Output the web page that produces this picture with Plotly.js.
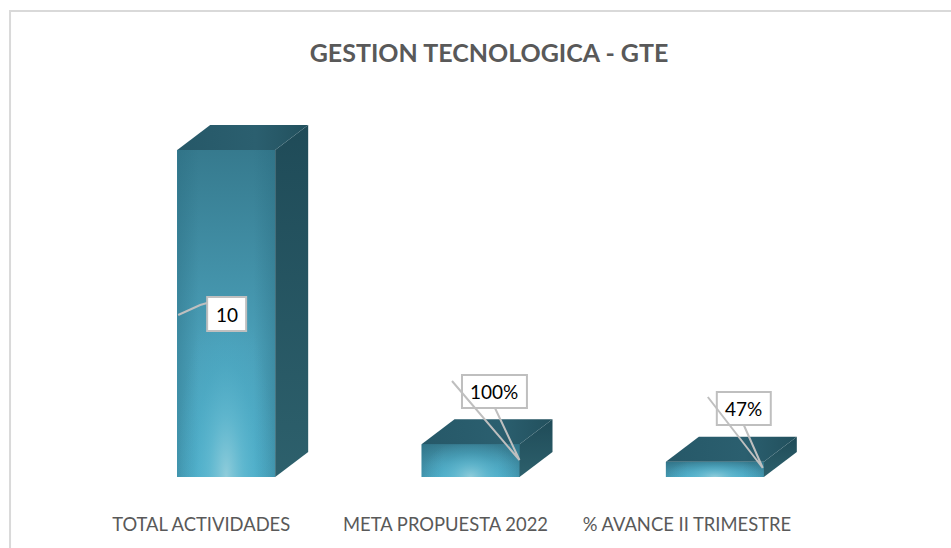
<!DOCTYPE html>
<html><head><meta charset="utf-8">
<script src="https://cdn.plot.ly/plotly-3.0.1.min.js"></script>
<style>html,body{margin:0;padding:0;background:#fff}</style></head>
<body><div id="chart" style="width:951px;height:548px"></div>
<script>
const categories = ["TOTAL ACTIVIDADES", "META PROPUESTA 2022", "% AVANCE II TRIMESTRE"];
const values = [10, 1, 0.47];
const valueLabels = ["10", "100%", "47%"];

// axis calibration (pixels)
const PX0 = 201, UNITX = 244.5, BASE = 477, UNITY = 32.7, TOPPX = 100;
const xd = p => (p - PX0) / UNITX;
const yd = p => (BASE - p) / UNITY;
const BAR_OFFSET = -0.098, BAR_W = 0.401, DEPTH_X = 33 / UNITX, DEPTH_Y = 25 / UNITY;
const glowDepth = [5.4, 1.15, 0.6];

const traces = [{
  type: 'bar', x: [0, 1, 2], y: values, width: BAR_W, offset: BAR_OFFSET,
  marker: {color: '#3f8ea8', line: {width: 0}}, hoverinfo: 'skip', showlegend: false
}];
const poly = (x, y, g) => ({type: 'scatter', mode: 'none', x, y, fill: 'toself', fillgradient: g, hoverinfo: 'skip', showlegend: false});

values.forEach((v, i) => {
  const a = i + BAR_OFFSET, b = a + BAR_W;
  // front: vertical shading
  traces.push(poly([a, b, b, a, a], [0, 0, v, v, 0], {type: 'vertical',
    colorscale: [[0, '#50afca'], [0.4, '#4a9fb8'], [1, '#367a8e']]}));
  // front: darker vertical edges
  traces.push(poly([a, b, b, a, a], [0, 0, v, v, 0], {type: 'horizontal',
    colorscale: [[0, 'rgba(40,105,125,0.38)'], [0.22, 'rgba(40,105,125,0)'], [0.78, 'rgba(40,105,125,0)'], [1, 'rgba(40,105,125,0.38)']]}));
  // front: glow rising from the base
  const k = glowDepth[i];
  traces.push(poly([a, b, b, a, a], [-k, -k, k, k, -k], {type: 'radial',
    colorscale: [[0, 'rgba(155,210,222,0.85)'], [0.35, 'rgba(105,190,212,0.6)'], [0.65, 'rgba(80,178,205,0.3)'], [1, 'rgba(80,175,205,0)']]}));
  // right side
  traces.push(poly([b, b + DEPTH_X, b + DEPTH_X, b, b], [0, DEPTH_Y, v + DEPTH_Y, v, 0], {type: 'vertical',
    colorscale: [[0, '#2d606c'], [1, '#1f4b58']]}));
  // top
  traces.push(poly([a, b, b + DEPTH_X, a + DEPTH_X, a], [v, v, v + DEPTH_Y, v + DEPTH_Y, v], {type: 'horizontal',
    colorscale: [[0, '#265868'], [0.6, '#2b5f6f'], [1, '#22505d']]}));
});

// callouts (pixels)
const boxes = [[207, 297, 246, 331], [462, 375, 527, 408], [717, 392, 771, 425]];
const leaders = [
  [[178, 315], [200, 305], [207, 303]],
  [[452, 381], [519.5, 460], [495, 408]],
  [[708, 397], [763, 468], [744, 425]]
];
const shapes = [];
const GREY = '#bfbfbf';
boxes.forEach((r, i) => {
  shapes.push({type: 'rect', xref: 'x', yref: 'y', layer: 'above', x0: xd(r[0]), x1: xd(r[2]), y0: yd(r[1]), y1: yd(r[3]),
    fillcolor: '#fff', line: {color: GREY, width: 2}});
  const path = leaders[i].map((p, j) => (j ? 'L' : 'M') + xd(p[0]) + ',' + yd(p[1])).join(' ');
  shapes.push({type: 'path', xref: 'x', yref: 'y', layer: 'above', path, line: {color: GREY, width: 2}});
});
// outer frame
shapes.push({type: 'rect', xref: 'paper', yref: 'paper', layer: 'below',
  x0: (10 - 79) / 733.5, x1: (1100 - 79) / 733.5, y0: -1, y1: (477 - 11) / (477 - TOPPX),
  line: {color: '#d9d9d9', width: 2}, fillcolor: 'rgba(0,0,0,0)'});

const annotations = boxes.map((r, i) => ({
  xref: 'x', yref: 'y', x: xd((r[0] + r[2]) / 2), y: yd((r[1] + r[3]) / 2), text: valueLabels[i], showarrow: false,
  font: {family: 'Lato, sans-serif', size: 19, color: '#000'}
}));

const layout = {
  width: 951, height: 548, paper_bgcolor: '#fff', plot_bgcolor: '#fff', showlegend: false, bargap: 0,
  margin: {l: PX0 - UNITX / 2, r: 951 - (PX0 + 2.5 * UNITX), t: TOPPX, b: 548 - BASE, pad: 0},
  title: {text: '<b>GESTION TECNOLOGICA - GTE</b>', x: 489 / 951, xanchor: 'center', y: 1 - 53 / 548, yanchor: 'middle',
    font: {family: 'Lato, sans-serif', size: 25, color: '#595959'}},
  xaxis: {range: [-0.5, 2.5], tickmode: 'array', tickvals: [0, 1, 1.988], ticktext: categories, showgrid: false, zeroline: false,
    showline: false, ticks: 'outside', ticklen: 31, tickcolor: 'rgba(0,0,0,0)', tickfont: {family: 'Lato, sans-serif', size: 18.4, color: '#595959'}, fixedrange: true},
  yaxis: {range: [0, (BASE - TOPPX) / UNITY], visible: false, fixedrange: true},
  shapes, annotations
};
Plotly.newPlot('chart', traces, layout, {displayModeBar: false, staticPlot: true});
</script></body></html>
